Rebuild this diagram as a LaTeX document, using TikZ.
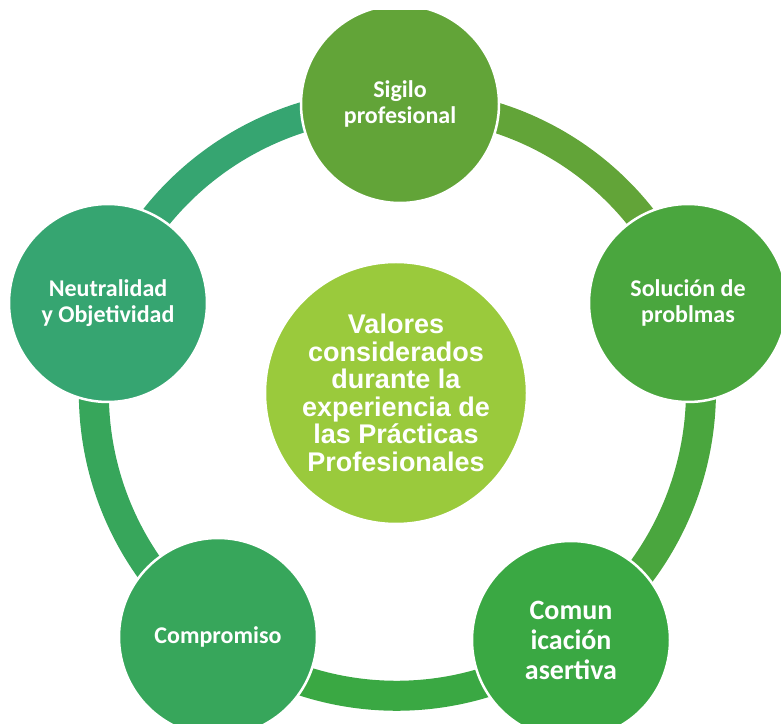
\documentclass[tikz,border=0pt]{standalone}
\usepackage{fontspec}
\usetikzlibrary{backgrounds}
\newfontfamily\calibri{Carlito}
\newfontfamily\arial{Liberation Sans}
\definecolor{verdeSig}{HTML}{62A438}
\definecolor{verdeSol}{HTML}{4AA63E}
\definecolor{verdeCom}{HTML}{3AA843}
\definecolor{verdeCpr}{HTML}{37A65B}
\definecolor{verdeNeu}{HTML}{36A571}
\definecolor{verdeCentro}{HTML}{9ACA3C}
\tikzset{
  valor/.style={circle, fill=#1, draw=white, line width=2.5pt, minimum size=198pt,
    inner sep=0pt, text=white, align=center,
    font=\calibri\bfseries\fontsize{24}{25.5}\selectfont},
  centro/.style={circle, fill=verdeCentro, draw=white, line width=2.5pt, minimum size=262pt,
    inner sep=0pt, text=white, align=center,
    font=\arial\bfseries\fontsize{27}{27.5}\selectfont},
  anillo/.style={draw=#1, line width=30pt},
}
\begin{document}
\begin{tikzpicture}[x=1pt,y=1pt]
\useasboundingbox (0,0) rectangle (781,723);
\begin{scope}
\clip (0,0) rectangle (781,712);
% circulos
\node[centro] (valores) at (396,330) {Valores\\considerados\\durante la\\experiencia de\\las Prácticas\\Profesionales};
\node[valor=verdeSig] (sigilo) at (400,619) {Sigilo\\profesional};
\node[valor=verdeSol] (solucion) at (688,420) {Solución de\\problmas};
\node[valor=verdeCom, font=\calibri\bfseries\fontsize{28}{30}\selectfont] (comunicacion) at (571,83) {Comun\\icación\\asertiva};
\node[valor=verdeCpr] (compromiso) at (218,86) {Compromiso};
\node[valor=verdeNeu] (neutralidad) at (108,420) {Neutralidad\\y Objetividad};
% anillo
\begin{scope}[on background layer]
\draw[anillo=verdeSig] (sigilo.center) to[bend left=36, looseness=0.94] (solucion.center);
\draw[anillo=verdeSol] (solucion.center) to[bend left=36, looseness=0.94] (comunicacion.center);
\draw[anillo=verdeCom] (comunicacion.center) to[bend left=36, looseness=0.94] (compromiso.center);
\draw[anillo=verdeCpr] (compromiso.center) to[bend left=36, looseness=0.94] (neutralidad.center);
\draw[anillo=verdeNeu] (neutralidad.center) to[bend left=36, looseness=0.94] (sigilo.center);
\end{scope}
\end{scope}
\end{tikzpicture}
\end{document}
